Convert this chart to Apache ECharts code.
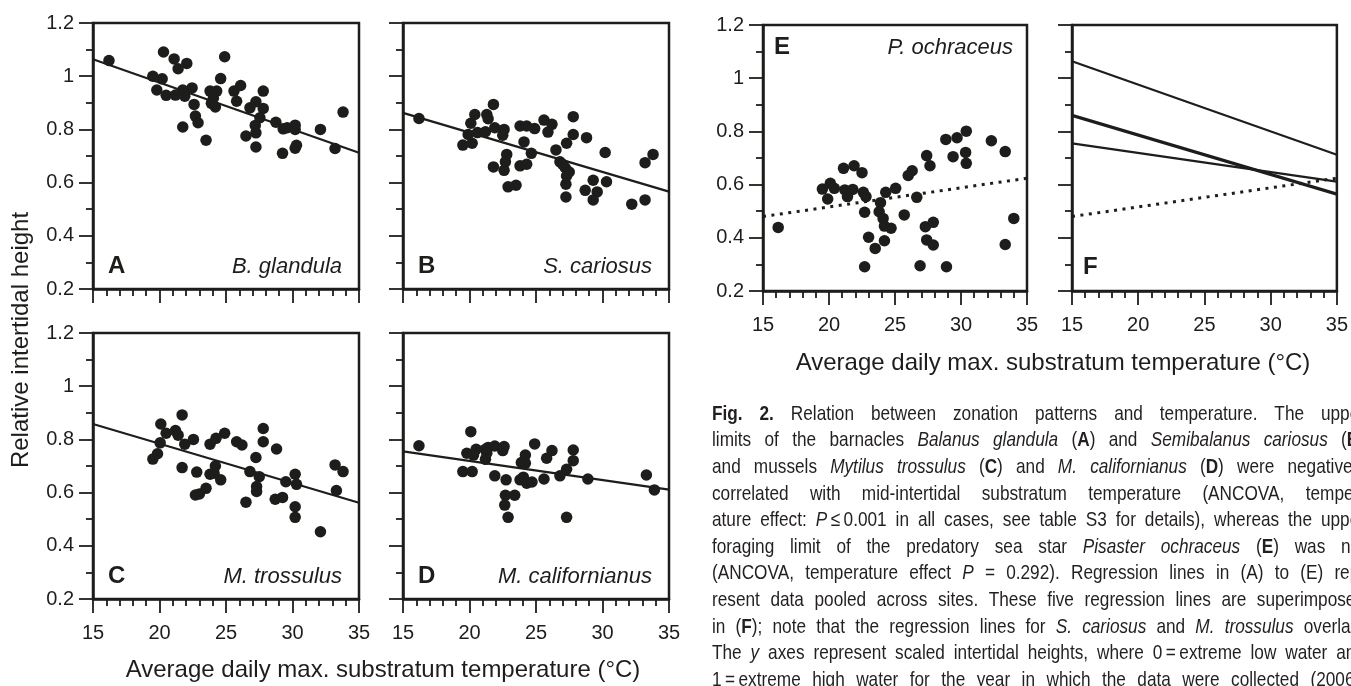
<!DOCTYPE html>
<html><head><meta charset="utf-8">
<script src="https://cdn.jsdelivr.net/npm/echarts@6/dist/echarts.min.js"></script>
<style>html,body{margin:0;padding:0;background:#fff}#c{width:1351px;height:686px}</style>
</head><body><div id="c"></div>
<script>
// ---------------- data ----------------
const xRange = [15, 35];
const yRange = [0.2, 1.2];

const pointsA = [[16.2,1.059],[20.3,1.091],[21.1,1.065],[21.4,1.028],[22.05,1.048],[24.9,1.073],[19.5,1.0],[20.2,0.99],[19.8,0.948],[20.5,0.928],[21.2,0.929],[21.75,0.948],[21.9,0.925],[22.45,0.956],[22.6,0.894],[22.7,0.85],[22.9,0.825],[21.75,0.809],[23.5,0.759],[23.8,0.944],[24.3,0.944],[23.9,0.898],[24.2,0.884],[24.6,0.991],[25.6,0.944],[26.1,0.965],[25.8,0.906],[26.8,0.881],[27.25,0.904],[27.8,0.944],[27.8,0.879],[27.55,0.844],[27.2,0.815],[26.5,0.775],[27.25,0.787],[27.25,0.734],[28.75,0.827],[29.3,0.802],[29.6,0.806],[30.2,0.816],[30.2,0.8],[29.25,0.71],[30.2,0.729],[30.3,0.74],[32.1,0.8],[33.2,0.728],[33.8,0.865],[24.05,0.917]];

const pointsB = [[16.2,0.841],[21.8,0.894],[20.4,0.856],[21.3,0.856],[21.4,0.84],[20.1,0.823],[19.9,0.781],[20.6,0.788],[21.2,0.791],[19.5,0.741],[20.2,0.748],[21.9,0.806],[22.6,0.8],[22.5,0.778],[23.8,0.813],[24.3,0.813],[24.9,0.803],[25.6,0.835],[26.2,0.819],[25.9,0.79],[27.8,0.848],[27.8,0.781],[28.8,0.769],[24.1,0.753],[24.65,0.71],[26.5,0.723],[27.3,0.748],[22.8,0.706],[22.7,0.678],[21.8,0.659],[22.6,0.646],[22.9,0.584],[23.5,0.59],[23.8,0.663],[24.3,0.669],[26.8,0.678],[27.2,0.656],[27.5,0.64],[27.3,0.625],[27.25,0.594],[27.25,0.546],[29.3,0.609],[28.7,0.571],[29.6,0.565],[29.3,0.535],[30.3,0.603],[30.2,0.713],[32.2,0.519],[33.2,0.535],[33.2,0.675],[33.8,0.706],[27.0,0.669]];

const pointsC = [[20.1,0.858],[21.7,0.892],[20.5,0.823],[21.2,0.833],[21.4,0.816],[20.05,0.787],[21.9,0.782],[22.55,0.8],[23.8,0.782],[24.25,0.804],[24.9,0.823],[25.8,0.791],[26.2,0.779],[27.8,0.841],[27.8,0.791],[28.8,0.764],[27.25,0.732],[19.5,0.726],[19.85,0.746],[21.7,0.694],[22.8,0.677],[22.7,0.591],[23.0,0.595],[23.5,0.616],[23.8,0.669],[24.2,0.7],[24.1,0.673],[24.6,0.648],[26.5,0.564],[26.8,0.679],[27.5,0.66],[27.3,0.623],[27.3,0.604],[28.7,0.575],[29.25,0.582],[29.5,0.641],[30.2,0.669],[30.3,0.631],[30.2,0.547],[30.2,0.507],[32.1,0.453],[33.2,0.704],[33.8,0.679],[33.3,0.608]];

const pointsD = [[16.2,0.776],[20.1,0.829],[19.8,0.748],[20.5,0.763],[20.3,0.741],[19.5,0.679],[20.2,0.679],[21.2,0.763],[21.4,0.77],[21.9,0.775],[22.6,0.773],[22.5,0.758],[21.2,0.725],[21.3,0.748],[21.9,0.663],[22.75,0.648],[22.7,0.59],[23.4,0.59],[24.9,0.783],[24.2,0.741],[23.9,0.713],[24.2,0.71],[23.8,0.648],[24.05,0.658],[24.3,0.635],[24.7,0.64],[25.6,0.651],[26.2,0.758],[25.8,0.729],[26.8,0.663],[27.3,0.688],[27.8,0.76],[27.8,0.72],[28.9,0.651],[33.3,0.666],[33.9,0.61],[22.65,0.553],[22.9,0.507],[27.3,0.507]];

const pointsE = [[16.15,0.439],[19.5,0.583],[20.1,0.605],[19.9,0.546],[20.4,0.586],[21.1,0.661],[21.9,0.671],[22.5,0.645],[21.2,0.58],[21.4,0.555],[21.8,0.582],[22.6,0.571],[22.8,0.555],[22.7,0.496],[23.0,0.402],[22.7,0.291],[23.5,0.36],[23.9,0.532],[23.8,0.498],[24.1,0.473],[24.2,0.444],[24.7,0.436],[24.2,0.389],[24.3,0.571],[25.05,0.586],[25.7,0.486],[26.0,0.634],[26.3,0.652],[26.65,0.552],[26.9,0.295],[27.4,0.709],[27.65,0.671],[27.3,0.442],[27.9,0.458],[27.4,0.392],[27.9,0.373],[28.9,0.291],[28.85,0.77],[29.4,0.705],[29.7,0.776],[30.4,0.801],[30.35,0.721],[30.4,0.68],[32.3,0.765],[33.35,0.724],[33.35,0.375],[34.0,0.473]];

// regression line values at xRange[0] and xRange[1]
const regA = [1.064, 0.712];
const regB = [0.862, 0.566];
const regC = [0.858, 0.562];
const regD = [0.755, 0.611];
const regE = [0.480, 0.624];

const panelLetters = ['A','B','C','D','E','F'];
const speciesNames = ['B. glandula','S. cariosus','M. trossulus','M. californianus','P. ochraceus',''];
const xTitle = 'Average daily max. substratum temperature (\u00B0C)';
const yTitle = 'Relative intertidal height';

const captionLines = [
 "**Fig. 2.** Relation between zonation patterns and temperature. The upper",
 "limits of the barnacles _Balanus glandula_ (**A**) and _Semibalanus cariosus_ (**B**)",
 "and mussels _Mytilus trossulus_ (**C**) and _M. californianus_ (**D**) were negatively",
 "correlated with mid-intertidal substratum temperature (ANCOVA, temper-",
 "ature effect: _P_\u2009\u2264\u20090.001 in all cases, see table S3 for details), whereas the upper",
 "foraging limit of the predatory sea star _Pisaster ochraceus_ (**E**) was not",
 "(ANCOVA, temperature effect _P_ = 0.292). Regression lines in (A) to (E) rep-",
 "resent data pooled across sites. These five regression lines are superimposed",
 "in (**F**); note that the regression lines for _S. cariosus_ and _M. trossulus_ overlap.",
 "The _y_ axes represent scaled intertidal heights, where 0\u2009=\u2009extreme low water and",
 "1\u2009=\u2009extreme high water for the year in which the data were collected (2006)."
];

// ---------------- layout ----------------
const FONT = '"Liberation Sans", Arial, Helvetica, sans-serif';
const INK = '#1d1d1b';
const boxes = [
  {left:93,  top:23, width:266, height:266},
  {left:403, top:23, width:266, height:266},
  {left:93,  top:333, width:266, height:266},
  {left:403, top:333, width:266, height:266},
  {left:763, top:25, width:264, height:266},
  {left:1072, top:25, width:267, height:266}
];
const showXLabel = [false,false,true,true,true,true];
const showYLabel = [true,false,true,false,true,false];

const grid = boxes.map(b => Object.assign({show:true, borderColor:INK, borderWidth:2.5, backgroundColor:'transparent', containLabel:false}, b));

const tickStyle = {color:INK, width:1.8};
const xAxis = boxes.map((b,i)=>({
  type:'value', gridIndex:i, min:xRange[0], max:xRange[1], interval:5,
  axisLine:{show:true, onZero:false, lineStyle:{color:INK, width:2.5}},
  axisTick:{show:true, inside:false, length:14, lineStyle:tickStyle},
  minorTick:{show:true, splitNumber:5, length:7, lineStyle:tickStyle},
  splitLine:{show:false}, minorSplitLine:{show:false},
  axisLabel:{show:showXLabel[i], margin:24, fontSize:20, color:INK, fontFamily:FONT}
}));
const yAxis = boxes.map((b,i)=>({
  type:'value', gridIndex:i, min:yRange[0], max:yRange[1], interval:0.2,
  axisLine:{show:true, onZero:false, lineStyle:{color:INK, width:2.5}},
  axisTick:{show:true, inside:false, length:14, lineStyle:tickStyle},
  minorTick:{show:true, splitNumber:2, length:7, lineStyle:tickStyle},
  splitLine:{show:false}, minorSplitLine:{show:false},
  axisLabel:{show:showYLabel[i], margin:19, fontSize:20, color:INK, fontFamily:FONT,
    formatter: v => String(Math.round(v*10)/10)}
}));

const scatterSets = [pointsA, pointsB, pointsC, pointsD, pointsE];
const regs = [regA, regB, regC, regD, regE];
const dotted = [false,false,false,false,true];

function regLine(reg, gi, isDot){
  return {
    type:'line', xAxisIndex:gi, yAxisIndex:gi, symbol:'none', silent:true, z:3,
    data:[[xRange[0], reg[0]], [xRange[1], reg[1]]],
    lineStyle: isDot ? {color:INK, width:3, type:[3,5.5]} : {color:INK, width:2.2}
  };
}
const series = [];
scatterSets.forEach((pts,i)=>{
  series.push({type:'scatter', xAxisIndex:i, yAxisIndex:i, data:pts, symbolSize:11.5,
    itemStyle:{color:INK, opacity:1}, silent:true, z:4});
  series.push(regLine(regs[i], i, dotted[i]));
});
regs.forEach((r,i)=> series.push(regLine(r, 5, dotted[i])));

// ---------------- text ----------------
const els = [];
const letterPos = [[108,266],[418,266],[108,576],[418,576],[774,47],[1083,267]];
const speciesPos = [[342,267],[652,267],[342,577],[652,577],[1013,48]];
panelLetters.forEach((L,i)=>{
  els.push({type:'text', x:letterPos[i][0], y:letterPos[i][1], silent:true,
    style:{text:L, fontSize:24, fontWeight:'bold', fontFamily:FONT, fill:INK, align:'left', verticalAlign:'middle'}});
  if (speciesNames[i]) els.push({type:'text', x:speciesPos[i][0], y:speciesPos[i][1], silent:true,
    style:{text:speciesNames[i], fontSize:22, fontStyle:'italic', fontFamily:FONT, fill:INK, align:'right', verticalAlign:'middle'}});
});
els.push({type:'text', x:383, y:670, silent:true, style:{text:xTitle, fontSize:24, fontFamily:FONT, fill:INK, align:'center', verticalAlign:'middle'}});
els.push({type:'text', x:1053, y:363, silent:true, style:{text:xTitle, fontSize:24, fontFamily:FONT, fill:INK, align:'center', verticalAlign:'middle'}});
els.push({type:'text', x:21, y:340, rotation:Math.PI/2, silent:true, style:{text:yTitle, fontSize:24, fontFamily:FONT, fill:INK, align:'center', verticalAlign:'middle'}});

// caption, justified
const CAP_X = 712, CAP_W = 653, CAP_Y0 = 414, CAP_DY = 26.6, CAP_SIZE = 21, CAP_SX = 0.82;
const ctx = document.createElement('canvas').getContext('2d');
function parseLine(s){
  const words=[]; let cur=[]; let b=false, it=false; let seg={t:'',b:false,i:false};
  const flush=()=>{ if(seg.t) cur.push(seg); seg={t:'',b:b,i:it}; };
  for(let k=0;k<s.length;k++){
    if(s.startsWith('**',k)){ flush(); b=!b; seg.b=b; k++; continue; }
    if(s[k]==='_'){ flush(); it=!it; seg.i=it; continue; }
    if(s[k]===' '){ flush(); if(cur.length) words.push(cur); cur=[]; continue; }
    seg.t+=s[k];
  }
  flush(); if(cur.length) words.push(cur);
  return words;
}
function segW(sg){
  ctx.font=(sg.i?'italic ':'')+(sg.b?'bold ':'')+CAP_SIZE+'px '+FONT;
  return ctx.measureText(sg.t).width*CAP_SX;
}
captionLines.forEach((line,li)=>{
  const words=parseLine(line);
  const ww=words.map(wd=>wd.reduce((a,sg)=>a+segW(sg),0));
  const tot=ww.reduce((a,c)=>a+c,0);
  const gap=Math.max(3,(CAP_W-tot)/(words.length-1));
  let x=CAP_X; const y=CAP_Y0+li*CAP_DY;
  words.forEach((wd,wi)=>{
    let sx=x;
    wd.forEach(sg=>{
      els.push({type:'text', x:sx, y:y, scaleX:CAP_SX, silent:true,
        style:{text:sg.t, fontSize:CAP_SIZE, fontFamily:FONT, fontWeight:sg.b?'bold':'normal',
          fontStyle:sg.i?'italic':'normal', fill:'#231f20', align:'left', verticalAlign:'middle'}});
      sx+=segW(sg);
    });
    x+=ww[wi]+gap;
  });
});

const chart = echarts.init(document.getElementById('c'), null, {renderer:'canvas'});
chart.setOption({animation:false, backgroundColor:'#fff', grid, xAxis, yAxis, series, graphic:{elements:els}});
</script></body></html>
